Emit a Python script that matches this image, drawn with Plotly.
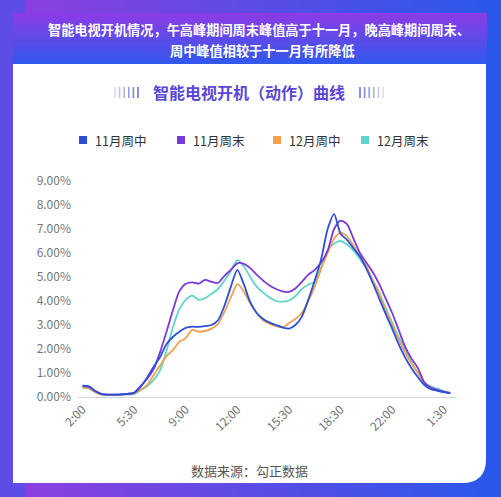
import plotly.graph_objects as go

# 数据：智能电视开机（动作）曲线，单位 %
tick_labels = ["2:00", "5:30", "9:00", "12:00", "15:30", "18:30", "22:00", "1:30"]
grid_labels = ["12:00", "18:30"]
series_names = ["11月周中", "11月周末", "12月周中", "12月周末"]

nov_weekday = [0.47, 0.44, 0.25, 0.12, 0.10, 0.10, 0.11, 0.13, 0.17, 0.42,
               0.80, 1.25, 1.65, 2.20, 2.50, 2.72, 2.88, 2.93, 2.92, 2.95,
               3.00, 3.20, 3.80, 4.60, 5.30, 4.70, 3.95, 3.50, 3.25, 3.10,
               3.00, 2.90, 2.85, 3.00, 3.35, 4.05, 4.85, 5.75, 7.00, 7.62,
               6.80, 6.55, 6.20, 5.85, 5.35, 4.75, 4.10, 3.45, 2.85, 2.20,
               1.65, 1.20, 0.82, 0.50, 0.33, 0.26, 0.20, 0.15]
nov_weekend = [0.45, 0.42, 0.24, 0.12, 0.10, 0.10, 0.11, 0.13, 0.18, 0.45,
               0.75, 1.15, 1.85, 2.70, 3.60, 4.40, 4.72, 4.78, 4.72, 4.88,
               4.80, 4.75, 5.05, 5.30, 5.57, 5.55, 5.37, 5.10, 4.85, 4.65,
               4.50, 4.40, 4.38, 4.52, 4.80, 5.10, 5.30, 5.60, 6.10, 7.00,
               7.35, 7.20, 6.60, 6.00, 5.60, 5.20, 4.70, 4.10, 3.50, 2.80,
               2.10, 1.60, 1.20, 0.60, 0.38, 0.30, 0.22, 0.16]
dec_weekday = [0.40, 0.37, 0.20, 0.10, 0.09, 0.09, 0.10, 0.12, 0.15, 0.30,
               0.50, 0.90, 1.30, 1.70, 1.95, 2.30, 2.45, 2.80, 2.72, 2.75,
               2.85, 3.05, 3.55, 4.15, 4.70, 4.40, 3.90, 3.50, 3.20, 3.05,
               2.95, 2.90, 3.08, 3.25, 3.50, 4.00, 4.60, 5.35, 6.00, 6.60,
               6.85, 6.70, 6.30, 5.85, 5.45, 4.85, 4.30, 3.60, 3.00, 2.40,
               1.85, 1.40, 1.00, 0.60, 0.40, 0.28, 0.22, 0.16]
dec_weekend = [0.38, 0.35, 0.20, 0.10, 0.08, 0.08, 0.09, 0.10, 0.13, 0.28,
               0.45, 0.70, 1.10, 1.90, 2.90, 3.65, 4.05, 4.22, 4.05, 4.12,
               4.30, 4.50, 4.85, 5.25, 5.70, 5.45, 5.00, 4.60, 4.35, 4.15,
               4.00, 3.97, 4.02, 4.20, 4.50, 4.68, 4.80, 5.40, 6.10, 6.40,
               6.50, 6.35, 6.10, 5.75, 5.35, 4.85, 4.35, 3.70, 3.10, 2.50,
               1.95, 1.45, 1.00, 0.60, 0.45, 0.35, 0.25, 0.18]
y_ticks = [0, 1, 2, 3, 4, 5, 6, 7, 8, 9]

# 画布与绘图区（像素）
W, H = 501, 497
ML, MR, MT, MB = 78, 44, 181, 100
PW, PH = W - ML - MR, H - MT - MB

FONT = "Noto Sans CJK SC"
COLORS = ["#2b4fd8", "#7a3ad8", "#f0a152", "#62d3cb"]
LEGEND_X = [83, 181, 277, 365]   # 图例方块中心（像素）


def px_x(px):
    return (px - ML) / PW


def px_y(py):
    return (H - MB - py) / PH


def mix(c1, c2, t):
    a = [int(c1[i:i + 2], 16) for i in (1, 3, 5)]
    b = [int(c2[i:i + 2], 16) for i in (1, 3, 5)]
    return "rgb({},{},{})".format(*[round(a[k] + (b[k] - a[k]) * t) for k in range(3)])


slots = list(range(len(nov_weekday)))
step = (len(slots) - 1) // (len(tick_labels) - 1)
tick_slots = slots[::step][:len(tick_labels)]

fig = go.Figure()

# 曲线（后画的在上层）
values = [nov_weekday, nov_weekend, dec_weekday, dec_weekend]
for idx in [3, 2, 1, 0]:
    fig.add_trace(go.Scatter(
        x=slots, y=values[idx], mode="lines", name=series_names[idx],
        line=dict(color=COLORS[idx], width=1.8, shape="spline", smoothing=0.7),
        showlegend=False, hoverinfo="skip"
    ))

for lbl in grid_labels:
    fig.add_vline(x=tick_slots[tick_labels.index(lbl)],
                  line=dict(color="#e6edf2", width=1), layer="below")

shapes = []
# 背景渐变（左紫右蓝）
n = 40
for i in range(n):
    shapes.append(dict(
        type="rect", xref="paper", yref="paper", layer="below",
        x0=px_x(i * W / n), x1=px_x((i + 1) * W / n + 0.8),
        y0=px_y(H), y1=px_y(0), line=dict(width=0),
        fillcolor=mix("#8f3fe0", "#2a58ea", i / (n - 1))
    ))
# 标题栏渐变（上紫下蓝）
top, bot = 13, 64
n = 17
for i in range(n):
    y0 = top + (bot - top) * i / n
    y1 = top + (bot - top) * (i + 1) / n + 0.5
    shapes.append(dict(
        type="rect", xref="paper", yref="paper", layer="below",
        x0=px_x(13), x1=px_x(487), y0=px_y(y1), y1=px_y(y0), line=dict(width=0),
        fillcolor=mix("#8a3ce6", "#3358ec", i / (n - 1))
    ))
# 白色卡片，右下圆角
cx0, cx1, cy0, cy1, r = 13, 486, 64, 483, 24
path = ("M {a},{t} L {b},{t} L {b},{yr} Q {b},{bo} {xr},{bo} L {a},{bo} Z").format(
    a=px_x(cx0), b=px_x(cx1), t=px_y(cy0), bo=px_y(cy1),
    yr=px_y(cy1 - r), xr=px_x(cx1 - r))
shapes.append(dict(type="path", path=path, xref="paper", yref="paper", layer="below",
                   fillcolor="white", line=dict(width=0)))
# 副标题两侧装饰竖条
for k in range(6):
    t = k / 5
    for xl, c in [(115 + k * 4.6, mix("#d9dcf0", "#6f72d8", t)),
                  (383 - k * 4.6, mix("#d9dcf0", "#6f72d8", t))]:
        shapes.append(dict(type="line", xref="paper", yref="paper",
                           x0=px_x(xl), x1=px_x(xl), y0=px_y(87), y1=px_y(98),
                           line=dict(color=c, width=1.6)))
# 图例方块
for cx, color in zip(LEGEND_X, COLORS):
    shapes.append(dict(type="rect", xref="paper", yref="paper",
                       x0=px_x(cx - 4), x1=px_x(cx + 4), y0=px_y(144), y1=px_y(136),
                       fillcolor=color, line=dict(width=0)))

annotations = [
    dict(text="<b>智能电视开机情况，午高峰期间周末峰值高于十一月，晚高峰期间周末、</b>",
         x=px_x(259), y=px_y(29), font=dict(size=13.2, color="white", family=FONT)),
    dict(text="<b>周中峰值相较于十一月有所降低</b>",
         x=px_x(262), y=px_y(50), font=dict(size=13.2, color="white", family=FONT)),
    dict(text="<b>智能电视开机（动作）曲线</b>",
         x=px_x(249), y=px_y(92), font=dict(size=16, color="#5a46d6", family=FONT)),
    dict(text="数据来源：勾正数据",
         x=px_x(249), y=px_y(470), font=dict(size=13, color="#555555", family=FONT)),
]
for a in annotations:
    a.update(xanchor="center")
for cx, name in zip(LEGEND_X, series_names):
    annotations.append(dict(text=name, x=px_x(cx + 10), y=px_y(140), xanchor="left",
                            font=dict(size=12.5, color="#333333", family=FONT)))
for a in annotations:
    a.update(xref="paper", yref="paper", showarrow=False, yanchor="middle")

fig.update_layout(
    width=W, height=H,
    margin=dict(l=ML, r=MR, t=MT, b=MB, pad=0),
    paper_bgcolor="#5e4ce6",
    plot_bgcolor="rgba(0,0,0,0)",
    font=dict(family=FONT, color="#777777"),
    shapes=shapes,
    annotations=annotations,
    showlegend=False,
    xaxis=dict(
        range=[-0.7, 58.05], tickmode="array", tickvals=tick_slots, ticktext=tick_labels,
        tickangle=-45, tickfont=dict(size=12, color="#6f6f6f"),
        showgrid=False, zeroline=False, showline=True, linecolor="#d0d4da", linewidth=1,
        ticks=""
    ),
    yaxis=dict(
        range=[0, 9], tickmode="array", tickvals=y_ticks,
        ticktext=["{:.2f}%".format(v) for v in y_ticks],
        tickfont=dict(size=12, color="#777777"),
        showgrid=False, zeroline=False, showline=False, ticks="", ticklabelstandoff=6
    ),
)

fig.write_html("out.html", config={"displayModeBar": False},
               post_script="document.body.style.margin='0';")
